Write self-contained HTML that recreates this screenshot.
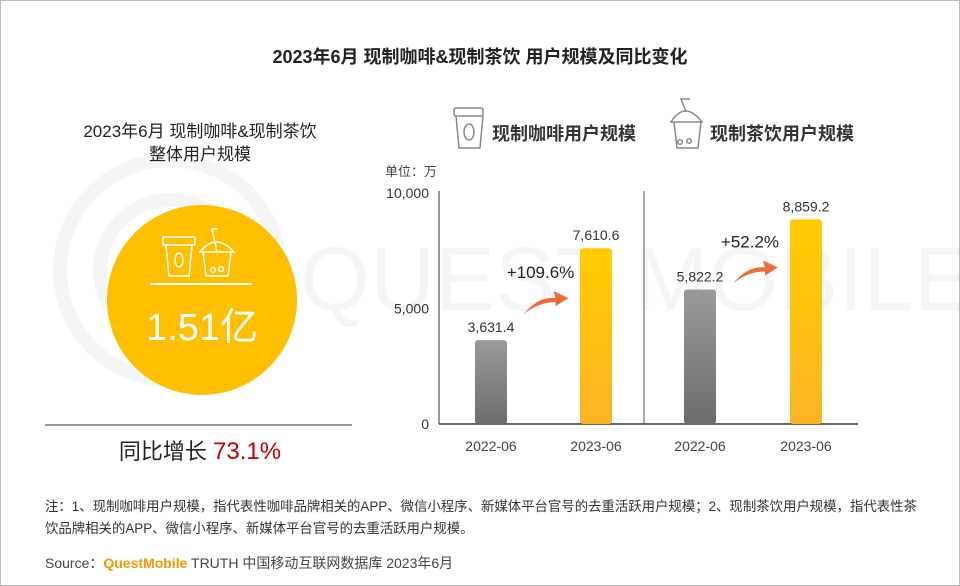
<!DOCTYPE html>
<html><head><meta charset="utf-8">
<style>
body{margin:0;width:960px;height:586px;background:#fff;overflow:hidden;font-family:"Liberation Sans","Noto Sans CJK SC",sans-serif;color:#222}
#frame{position:absolute;left:0;top:0;width:958px;height:584px;border:1px solid #bbb}
.t{position:absolute;white-space:nowrap}
</style></head>
<body>
<div id="frame"></div>
<div class="t" style="left:0;width:960px;text-align:center;top:43px;font-size:18px;font-weight:bold;color:#222">2023年6月 现制咖啡&amp;现制茶饮 用户规模及同比变化</div>
<svg width="960" height="586" style="position:absolute;left:0;top:0">
 <defs>
  <linearGradient id="gg" x1="0" y1="0" x2="0" y2="1"><stop offset="0" stop-color="#9a9a9a"/><stop offset="1" stop-color="#6c6c6c"/></linearGradient>
  <linearGradient id="yg" x1="0" y1="0" x2="0" y2="1"><stop offset="0" stop-color="#ffcc00"/><stop offset="1" stop-color="#fbb424"/></linearGradient>
 </defs>
 <g opacity="0.035" fill="none" stroke="#000" stroke-width="14">
  <circle cx="170" cy="270" r="110"/><circle cx="170" cy="270" r="70"/>
  <text x="300" y="310" font-size="90" fill="#000" stroke="none" font-family="Liberation Sans">QUEST MOBILE</text>
 </g>
 <g>
  <circle cx="202" cy="300" r="95" fill="#fdbf00"/>
  <line x1="150" y1="284" x2="252" y2="284" stroke="#fff" stroke-width="2"/>
  <g fill="none" stroke="#fff" stroke-width="1.5">
   <rect x="163" y="237" width="32" height="8" rx="1"/><path d="M166 245 L169 276 L189 276 L192 245"/><ellipse cx="179" cy="260" rx="4" ry="7"/>
   <path d="M200 252 Q216 232 234 252 Z"/><path d="M203 252 L206 276 L228 276 L231 252"/><path d="M217 252 L212 229 L218 229"/><circle cx="213" cy="270" r="2.5"/><circle cx="221" cy="269" r="2.5"/>
  </g>
 </g>
 <line x1="45" y1="425" x2="352" y2="425" stroke="#333" stroke-width="1"/>
 <g id="plot"></g>
 <g fill="none" stroke="#888" stroke-width="1.5">
  <rect x="454" y="108" width="29" height="8" rx="2"/><path d="M456 116 L459 148 L480 148 L483 116"/><ellipse cx="469" cy="132" rx="5" ry="8"/>
 </g>
 <g fill="none" stroke="#888" stroke-width="1.5">
  <path d="M671 122 Q685 100 702 122"/><line x1="670" y1="122" x2="703" y2="122"/><path d="M674 122 L677 148 L698 148 L701 122"/><path d="M686 112 L681 99 L690 99"/><circle cx="680" cy="142" r="2.3"/><circle cx="689" cy="141" r="2.3"/>
 </g>
</svg>
<div class="t" style="left:45px;width:310px;text-align:center;top:120px;font-size:17px;line-height:23px;color:#222">2023年6月 现制咖啡&amp;现制茶饮<br>整体用户规模</div>
<div class="t" style="left:107px;width:190px;text-align:center;top:296px;font-size:38px;color:#fff">1.51亿</div>
<div class="t" style="left:45px;width:310px;text-align:center;top:434px;font-size:22px;color:#222">同比增长 <span style="color:#c00000;font-size:24px">73.1%</span></div>
<div class="t" style="left:492px;top:120px;font-size:18px;font-weight:bold;color:#333">现制咖啡用户规模</div>
<div class="t" style="left:710px;top:120px;font-size:18px;font-weight:bold;color:#333">现制茶饮用户规模</div>
<div class="t" style="left:385px;top:161px;font-size:13px;color:#444">单位：万</div>
<div class="t" style="left:45px;top:496px;font-size:13.4px;line-height:22px;color:#333;white-space:normal;width:875px">注：1、现制咖啡用户规模，指代表性咖啡品牌相关的APP、微信小程序、新媒体平台官号的去重活跃用户规模；2、现制茶饮用户规模，指代表性茶饮品牌相关的APP、微信小程序、新媒体平台官号的去重活跃用户规模。</div>
<div class="t" style="left:45px;top:553px;font-size:14px;color:#444">Source：<span style="color:#f39800;font-weight:bold">QuestMobile</span> TRUTH 中国移动互联网数据库 2023年6月</div>
<script>
const categories=["2022-06","2023-06","2022-06","2023-06"];
const values=[3631.4,7610.6,5822.2,8859.2];
const valueLabels=["3,631.4","7,610.6","5,822.2","8,859.2"];
const growthLabels=["+109.6%","+52.2%"];
const yTicks=[0,5000,10000];
const yTickLabels=["0","5,000","10,000"];
const NS="http://www.w3.org/2000/svg";
const g=document.getElementById('plot');
const y0=424,y1=193,yMax=10000;
const yS=v=>y0-(v/yMax)*(y0-y1);
const xL=439,xR=858;
const centers=[491,596,700,806];
const xS=i=>centers[i];
function mk(t,a){const e=document.createElementNS(NS,t);for(const k in a)e.setAttribute(k,a[k]);g.appendChild(e);return e;}
yTicks.forEach((v,i)=>{const t=mk('text',{x:429,y:yS(v)+5,'text-anchor':'end','font-size':14,fill:'#333'});t.textContent=yTickLabels[i];

});
const ax=mk('line',{x1:xL,y1:y1-2,x2:xL,y2:y0,stroke:'#333'});


const bx=mk('line',{x1:xL,y1:y0,x2:xR,y2:y0,stroke:'#333','stroke-width':1.5});


const dv=mk('line',{x1:644,y1:y1-2,x2:644,y2:y0,stroke:'#555'});


values.forEach((v,i)=>{const w=32,x=xS(i)-w/2,top=yS(v);
const r=mk('rect',{x:x,y:top,width:w,height:y0-top,rx:3,fill:i%2?'url(#yg)':'url(#gg)'});


const l=mk('text',{x:xS(i),y:top-8,'text-anchor':'middle','font-size':14,fill:'#333'});l.textContent=valueLabels[i];


const c=mk('text',{x:xS(i),y:451,'text-anchor':'middle','font-size':14,fill:'#444'});c.textContent=categories[i];

});
growthLabels.forEach((s,k)=>{const a=xS(2*k),b=xS(2*k+1);const mx=(a+b)/2;
const ay=k===0?yS(values[0])-38:yS(values[2])-18;
const p=mk('path',{d:`M${mx-20} ${ay+12} Q${mx-5} ${ay-6} ${mx+12} ${ay-4} L${mx+10} ${ay-11} L${mx+25} ${ay-4} L${mx+12} ${ay+4} L${mx+12} ${ay} Q${mx-5} ${ay} ${mx-20} ${ay+12}Z`,fill:'#ee6b3a'});


const t=mk('text',{x:mx-3,y:ay-24,'text-anchor':'middle','font-size':17,fill:'#222'});t.textContent=s;

});
</script>
</body></html>
